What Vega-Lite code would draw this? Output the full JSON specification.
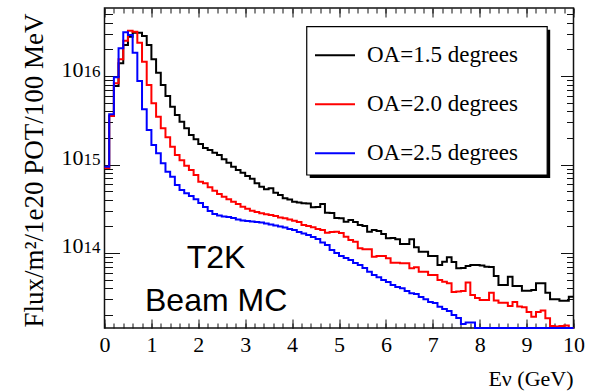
{
  "$schema": "https://vega.github.io/schema/vega-lite/v6.json",
  "width": 469,
  "height": 320,
  "autosize": {"type": "none"},
  "padding": {"left": 104.5, "top": 8, "right": 22.5, "bottom": 63},
  "background": "white",
  "config": {
    "font": "Liberation Serif, serif",
    "style": {"guide-label": {"font": "Liberation Serif, serif"}, "guide-title": {"font": "Liberation Serif, serif"}},
    "view": {"stroke": "#111", "strokeWidth": 1.5},
    "axis": {"labelFont": "Liberation Serif, serif", "titleFont": "Liberation Serif, serif", "titleFontWeight": "normal", "labelColor": "black", "titleColor": "black", "tickColor": "#111", "tickWidth": 1, "grid": false, "domain": false, "labelOverlap": false, "labelFlush": false},
    "legend": {"labelFont": "Liberation Serif, serif"}
  },
  "data": {"values": [
    {"e":0.0,"a":1.5,"f":9.13e14},{"e":0.1,"a":1.5,"f":3.53e15},{"e":0.2,"a":1.5,"f":7.71e15},{"e":0.3,"a":1.5,"f":1.39e16},{"e":0.4,"a":1.5,"f":2.24e16},{"e":0.5,"a":1.5,"f":2.78e16},{"e":0.6,"a":1.5,"f":3.08e16},{"e":0.7,"a":1.5,"f":3.08e16},{"e":0.8,"a":1.5,"f":2.83e16},{"e":0.9,"a":1.5,"f":2.24e16},
    {"e":1.0,"a":1.5,"f":1.55e16},{"e":1.1,"a":1.5,"f":1.09e16},{"e":1.2,"a":1.5,"f":7.91e15},{"e":1.3,"a":1.5,"f":5.94e15},{"e":1.4,"a":1.5,"f":4.5e15},{"e":1.5,"a":1.5,"f":3.62e15},{"e":1.6,"a":1.5,"f":3.05e15},{"e":1.7,"a":1.5,"f":2.57e15},{"e":1.8,"a":1.5,"f":2.15e15},{"e":1.9,"a":1.5,"f":1.93e15},
    {"e":2.0,"a":1.5,"f":1.71e15},{"e":2.1,"a":1.5,"f":1.54e15},{"e":2.2,"a":1.5,"f":1.46e15},{"e":2.3,"a":1.5,"f":1.36e15},{"e":2.4,"a":1.5,"f":1.28e15},{"e":2.5,"a":1.5,"f":1.15e15},{"e":2.6,"a":1.5,"f":1.05e15},{"e":2.7,"a":1.5,"f":9.44e14},{"e":2.8,"a":1.5,"f":8.67e14},{"e":2.9,"a":1.5,"f":8.08e14},
    {"e":3.0,"a":1.5,"f":7.41e14},{"e":3.1,"a":1.5,"f":6.91e14},{"e":3.2,"a":1.5,"f":6.13e14},{"e":3.3,"a":1.5,"f":5.61e14},{"e":3.4,"a":1.5,"f":5.25e14},{"e":3.5,"a":1.5,"f":5.38e14},{"e":3.6,"a":1.5,"f":4.8e14},{"e":3.7,"a":1.5,"f":4.52e14},{"e":3.8,"a":1.5,"f":4.15e14},{"e":3.9,"a":1.5,"f":4.02e14},
    {"e":4.0,"a":1.5,"f":3.8e14},{"e":4.1,"a":1.5,"f":3.72e14},{"e":4.2,"a":1.5,"f":3.65e14},{"e":4.3,"a":1.5,"f":3.63e14},{"e":4.4,"a":1.5,"f":3.28e14},{"e":4.5,"a":1.5,"f":3.31e14},{"e":4.6,"a":1.5,"f":3.58e14},{"e":4.7,"a":1.5,"f":2.85e14},{"e":4.8,"a":1.5,"f":2.83e14},{"e":4.9,"a":1.5,"f":2.49e14},
    {"e":5.0,"a":1.5,"f":2.47e14},{"e":5.1,"a":1.5,"f":2.26e14},{"e":5.2,"a":1.5,"f":2.36e14},{"e":5.3,"a":1.5,"f":2.24e14},{"e":5.4,"a":1.5,"f":2.07e14},{"e":5.5,"a":1.5,"f":2.02e14},{"e":5.6,"a":1.5,"f":1.74e14},{"e":5.7,"a":1.5,"f":1.82e14},{"e":5.8,"a":1.5,"f":1.77e14},{"e":5.9,"a":1.5,"f":1.64e14},
    {"e":6.0,"a":1.5,"f":1.47e14},{"e":6.1,"a":1.5,"f":1.48e14},{"e":6.2,"a":1.5,"f":1.43e14},{"e":6.3,"a":1.5,"f":1.26e14},{"e":6.4,"a":1.5,"f":1.26e14},{"e":6.5,"a":1.5,"f":1.43e14},{"e":6.6,"a":1.5,"f":1.16e14},{"e":6.7,"a":1.5,"f":1.035e14},{"e":6.8,"a":1.5,"f":1.03e14},{"e":6.9,"a":1.5,"f":9.25e13},
    {"e":7.0,"a":1.5,"f":9.25e13},{"e":7.1,"a":1.5,"f":7.31e13},{"e":7.2,"a":1.5,"f":7.98e13},{"e":7.3,"a":1.5,"f":8.94e13},{"e":7.4,"a":1.5,"f":7.92e13},{"e":7.5,"a":1.5,"f":6.72e13},{"e":7.6,"a":1.5,"f":6.77e13},{"e":7.7,"a":1.5,"f":7.13e13},{"e":7.8,"a":1.5,"f":7.31e13},{"e":7.9,"a":1.5,"f":7.31e13},
    {"e":8.0,"a":1.5,"f":7.22e13},{"e":8.1,"a":1.5,"f":7.0e13},{"e":8.2,"a":1.5,"f":6.95e13},{"e":8.3,"a":1.5,"f":5.5e13},{"e":8.4,"a":1.5,"f":4.35e13},{"e":8.5,"a":1.5,"f":4.35e13},{"e":8.6,"a":1.5,"f":5.4e13},{"e":8.7,"a":1.5,"f":4.24e13},{"e":8.8,"a":1.5,"f":4.24e13},{"e":8.9,"a":1.5,"f":3.75e13},
    {"e":9.0,"a":1.5,"f":3.75e13},{"e":9.1,"a":1.5,"f":3.82e13},{"e":9.2,"a":1.5,"f":4.55e13},{"e":9.3,"a":1.5,"f":4.55e13},{"e":9.4,"a":1.5,"f":3.56e13},{"e":9.5,"a":1.5,"f":3.0e13},{"e":9.6,"a":1.5,"f":3.0e13},{"e":9.7,"a":1.5,"f":2.89e13},{"e":9.8,"a":1.5,"f":2.89e13},{"e":9.9,"a":1.5,"f":3.21e13},{"e":10.0,"a":1.5,"f":3.21e13},

    {"e":0.0,"a":2.0,"f":9.13e14},{"e":0.1,"a":2.0,"f":3.53e15},{"e":0.2,"a":2.0,"f":8.27e15},{"e":0.3,"a":2.0,"f":1.55e16},{"e":0.4,"a":2.0,"f":2.51e16},{"e":0.5,"a":2.0,"f":3.25e16},{"e":0.6,"a":2.0,"f":3.17e16},{"e":0.7,"a":2.0,"f":2.38e16},{"e":0.8,"a":2.0,"f":1.45e16},{"e":0.9,"a":2.0,"f":7.91e15},
    {"e":1.0,"a":2.0,"f":4.91e15},{"e":1.1,"a":2.0,"f":3.47e15},{"e":1.2,"a":2.0,"f":2.57e15},{"e":1.3,"a":2.0,"f":2.03e15},{"e":1.4,"a":2.0,"f":1.59e15},{"e":1.5,"a":2.0,"f":1.28e15},{"e":1.6,"a":2.0,"f":1.12e15},{"e":1.7,"a":2.0,"f":9.69e14},{"e":1.8,"a":2.0,"f":8.67e14},{"e":1.9,"a":2.0,"f":7.61e14},
    {"e":2.0,"a":2.0,"f":6.4e14},{"e":2.1,"a":2.0,"f":6.13e14},{"e":2.2,"a":2.0,"f":5.52e14},{"e":2.3,"a":2.0,"f":5.06e14},{"e":2.4,"a":2.0,"f":4.64e14},{"e":2.5,"a":2.0,"f":4.33e14},{"e":2.6,"a":2.0,"f":4.04e14},{"e":2.7,"a":2.0,"f":3.8e14},{"e":2.8,"a":2.0,"f":3.58e14},{"e":2.9,"a":2.0,"f":3.34e14},
    {"e":3.0,"a":2.0,"f":3.17e14},{"e":3.1,"a":2.0,"f":3.01e14},{"e":3.2,"a":2.0,"f":2.91e14},{"e":3.3,"a":2.0,"f":2.81e14},{"e":3.4,"a":2.0,"f":2.74e14},{"e":3.5,"a":2.0,"f":2.69e14},{"e":3.6,"a":2.0,"f":2.62e14},{"e":3.7,"a":2.0,"f":2.51e14},{"e":3.8,"a":2.0,"f":2.47e14},{"e":3.9,"a":2.0,"f":2.39e14},
    {"e":4.0,"a":2.0,"f":2.32e14},{"e":4.1,"a":2.0,"f":2.24e14},{"e":4.2,"a":2.0,"f":2.07e14},{"e":4.3,"a":2.0,"f":2.02e14},{"e":4.4,"a":2.0,"f":1.95e14},{"e":4.5,"a":2.0,"f":1.87e14},{"e":4.6,"a":2.0,"f":1.82e14},{"e":4.7,"a":2.0,"f":1.69e14},{"e":4.8,"a":2.0,"f":1.73e14},{"e":4.9,"a":2.0,"f":1.74e14},
    {"e":5.0,"a":2.0,"f":1.68e14},{"e":5.1,"a":2.0,"f":1.53e14},{"e":5.2,"a":2.0,"f":1.4e14},{"e":5.3,"a":2.0,"f":1.34e14},{"e":5.4,"a":2.0,"f":1.13e14},{"e":5.5,"a":2.0,"f":1.1e14},{"e":5.6,"a":2.0,"f":1.1e14},{"e":5.7,"a":2.0,"f":9.08e13},{"e":5.8,"a":2.0,"f":9.25e13},{"e":5.9,"a":2.0,"f":9.25e13},
    {"e":6.0,"a":2.0,"f":8.71e13},{"e":6.1,"a":2.0,"f":7.77e13},{"e":6.2,"a":2.0,"f":7.77e13},{"e":6.3,"a":2.0,"f":7.65e13},{"e":6.4,"a":2.0,"f":7.65e13},{"e":6.5,"a":2.0,"f":6.72e13},{"e":6.6,"a":2.0,"f":6.89e13},{"e":6.7,"a":2.0,"f":6.15e13},{"e":6.8,"a":2.0,"f":6.15e13},{"e":6.9,"a":2.0,"f":5.64e13},
    {"e":7.0,"a":2.0,"f":5.64e13},{"e":7.1,"a":2.0,"f":4.95e13},{"e":7.2,"a":2.0,"f":4.74e13},{"e":7.3,"a":2.0,"f":4.55e13},{"e":7.4,"a":2.0,"f":3.63e13},{"e":7.5,"a":2.0,"f":3.66e13},{"e":7.6,"a":2.0,"f":3.72e13},{"e":7.7,"a":2.0,"f":4.64e13},{"e":7.8,"a":2.0,"f":3.35e13},{"e":7.9,"a":2.0,"f":3.1e13},
    {"e":8.0,"a":2.0,"f":2.94e13},{"e":8.1,"a":2.0,"f":2.94e13},{"e":8.2,"a":2.0,"f":3.56e13},{"e":8.3,"a":2.0,"f":2.9e13},{"e":8.4,"a":2.0,"f":2.74e13},{"e":8.5,"a":2.0,"f":2.74e13},{"e":8.6,"a":2.0,"f":2.52e13},{"e":8.7,"a":2.0,"f":2.79e13},{"e":8.8,"a":2.0,"f":2.48e13},{"e":8.9,"a":2.0,"f":2.43e13},
    {"e":9.0,"a":2.0,"f":2.15e13},{"e":9.1,"a":2.0,"f":1.9e13},{"e":9.2,"a":2.0,"f":2.15e13},{"e":9.3,"a":2.0,"f":2.24e13},{"e":9.4,"a":2.0,"f":1.83e13},{"e":9.5,"a":2.0,"f":1.5e13},{"e":9.6,"a":2.0,"f":1.48e13},{"e":9.7,"a":2.0,"f":1.5e13},{"e":9.8,"a":2.0,"f":1.52e13},{"e":9.9,"a":2.0,"f":1.42e13},{"e":10.0,"a":2.0,"f":1.42e13},

    {"e":0.0,"a":2.5,"f":9.44e14},{"e":0.1,"a":2.5,"f":3.69e15},{"e":0.2,"a":2.5,"f":9.67e15},{"e":0.3,"a":2.5,"f":2.06e16},{"e":0.4,"a":2.5,"f":3.12e16},{"e":0.5,"a":2.5,"f":2.9e16},{"e":0.6,"a":2.5,"f":1.83e16},{"e":0.7,"a":2.5,"f":8.78e15},{"e":0.8,"a":2.5,"f":4.2e15},{"e":0.9,"a":2.5,"f":2.45e15},
    {"e":1.0,"a":2.5,"f":1.66e15},{"e":1.1,"a":2.5,"f":1.34e15},{"e":1.2,"a":2.5,"f":1.03e15},{"e":1.3,"a":2.5,"f":8.3e14},{"e":1.4,"a":2.5,"f":7.28e14},{"e":1.5,"a":2.5,"f":5.87e14},{"e":1.6,"a":2.5,"f":5.15e14},{"e":1.7,"a":2.5,"f":4.73e14},{"e":1.8,"a":2.5,"f":4.41e14},{"e":1.9,"a":2.5,"f":4.04e14},
    {"e":2.0,"a":2.5,"f":3.67e14},{"e":2.1,"a":2.5,"f":3.31e14},{"e":2.2,"a":2.5,"f":2.98e14},{"e":2.3,"a":2.5,"f":2.76e14},{"e":2.4,"a":2.5,"f":2.65e14},{"e":2.5,"a":2.5,"f":2.58e14},{"e":2.6,"a":2.5,"f":2.55e14},{"e":2.7,"a":2.5,"f":2.49e14},{"e":2.8,"a":2.5,"f":2.39e14},{"e":2.9,"a":2.5,"f":2.33e14},
    {"e":3.0,"a":2.5,"f":2.3e14},{"e":3.1,"a":2.5,"f":2.27e14},{"e":3.2,"a":2.5,"f":2.24e14},{"e":3.3,"a":2.5,"f":2.21e14},{"e":3.4,"a":2.5,"f":2.15e14},{"e":3.5,"a":2.5,"f":2.1e14},{"e":3.6,"a":2.5,"f":2.05e14},{"e":3.7,"a":2.5,"f":1.99e14},{"e":3.8,"a":2.5,"f":1.94e14},{"e":3.9,"a":2.5,"f":1.87e14},
    {"e":4.0,"a":2.5,"f":1.82e14},{"e":4.1,"a":2.5,"f":1.73e14},{"e":4.2,"a":2.5,"f":1.66e14},{"e":4.3,"a":2.5,"f":1.6e14},{"e":4.4,"a":2.5,"f":1.52e14},{"e":4.5,"a":2.5,"f":1.44e14},{"e":4.6,"a":2.5,"f":1.31e14},{"e":4.7,"a":2.5,"f":1.23e14},{"e":4.8,"a":2.5,"f":1.08e14},{"e":4.9,"a":2.5,"f":1.0e14},
    {"e":5.0,"a":2.5,"f":9.25e13},{"e":5.1,"a":2.5,"f":8.78e13},{"e":5.2,"a":2.5,"f":8.34e13},{"e":5.3,"a":2.5,"f":7.71e13},{"e":5.4,"a":2.5,"f":7.31e13},{"e":5.5,"a":2.5,"f":6.77e13},{"e":5.6,"a":2.5,"f":6.15e13},{"e":5.7,"a":2.5,"f":5.64e13},{"e":5.8,"a":2.5,"f":5.31e13},{"e":5.9,"a":2.5,"f":4.95e13},
    {"e":6.0,"a":2.5,"f":4.7e13},{"e":6.1,"a":2.5,"f":4.35e13},{"e":6.2,"a":2.5,"f":4.13e13},{"e":6.3,"a":2.5,"f":3.99e13},{"e":6.4,"a":2.5,"f":3.72e13},{"e":6.5,"a":2.5,"f":3.51e13},{"e":6.6,"a":2.5,"f":3.44e13},{"e":6.7,"a":2.5,"f":3.18e13},{"e":6.8,"a":2.5,"f":3.0e13},{"e":6.9,"a":2.5,"f":2.79e13},
    {"e":7.0,"a":2.5,"f":2.72e13},{"e":7.1,"a":2.5,"f":2.47e13},{"e":7.2,"a":2.5,"f":2.33e13},{"e":7.3,"a":2.5,"f":2.21e13},{"e":7.4,"a":2.5,"f":1.99e13},{"e":7.5,"a":2.5,"f":1.84e13},{"e":7.6,"a":2.5,"f":1.58e13},{"e":7.7,"a":2.5,"f":1.64e13},{"e":7.8,"a":2.5,"f":1.64e13},{"e":7.9,"a":2.5,"f":1.42e13},
    {"e":8.0,"a":2.5,"f":1.42e13},{"e":8.1,"a":2.5,"f":1.42e13},{"e":8.2,"a":2.5,"f":1.42e13},{"e":8.3,"a":2.5,"f":1.42e13},{"e":8.4,"a":2.5,"f":1.42e13},{"e":8.5,"a":2.5,"f":1.42e13},{"e":8.6,"a":2.5,"f":1.42e13},{"e":8.7,"a":2.5,"f":1.42e13},{"e":8.8,"a":2.5,"f":1.42e13},{"e":8.9,"a":2.5,"f":1.42e13},
    {"e":9.0,"a":2.5,"f":1.42e13},{"e":9.1,"a":2.5,"f":1.42e13},{"e":9.2,"a":2.5,"f":1.42e13},{"e":9.3,"a":2.5,"f":1.42e13},{"e":9.4,"a":2.5,"f":1.42e13},{"e":9.5,"a":2.5,"f":1.42e13},{"e":9.6,"a":2.5,"f":1.42e13},{"e":9.7,"a":2.5,"f":1.42e13},{"e":9.8,"a":2.5,"f":1.42e13},{"e":9.9,"a":2.5,"f":1.42e13},{"e":10.0,"a":2.5,"f":1.42e13}
  ]},
  "resolve": {"axis": {"x": "independent", "y": "independent"}},
  "layer": [
    {
      "mark": {"type": "line", "interpolate": "step-after", "strokeWidth": 2},
      "encoding": {
        "x": {"field": "e", "type": "quantitative", "scale": {"domain": [0, 10], "nice": false},
          "axis": {"orient": "bottom", "values": [0,1,2,3,4,5,6,7,8,9,10], "ticks": false, "labelFont": "Liberation Serif, serif", "labelFontSize": 22, "labelBaseline": "alphabetic", "labelPadding": 23.5,
            "title": "Eν (GeV)", "titleFontSize": 22, "titleAnchor": "end", "titleAlign": "right", "titleBaseline": "alphabetic", "titleX": 468.5, "titleY": 57}},
        "y": {"field": "f", "type": "quantitative", "scale": {"type": "log", "domain": [1.42e13, 5.87e16], "nice": false},
          "axis": {"orient": "left", "values": [1e14, 1e15, 1e16], "labelExpr": "'10'", "ticks": false, "labelFont": "Liberation Serif, serif", "labelFontSize": 22, "labelAlign": "right", "labelBaseline": "alphabetic", "labelDy": 10, "labelPadding": 21.5,
            "title": "Flux/m²/1e20 POT/100 MeV", "titleFontSize": 27, "titleAngle": 270, "titleAnchor": "end", "titleAlign": "right", "titleBaseline": "alphabetic", "titleX": -62.5, "titleY": 5}},
        "color": {"field": "a", "type": "nominal", "scale": {"domain": [1.5, 2, 2.5], "range": ["#000000", "#ff0000", "#0000ff"]},
          "legend": {"orient": "none", "legendX": 209.5, "legendY": 26.2, "title": null,
            "symbolType": "stroke", "symbolSize": 1600, "symbolStrokeWidth": 2,
            "labelFont": "Liberation Serif, serif", "labelFontSize": 23, "labelColor": "black", "labelOffset": 11, "rowPadding": 16, "padding": 0,
            "labelLimit": 400,
            "labelExpr": "'OA=' + format(datum.value, '.1f') + ' degrees'"}}
      }
    },
    {
      "mark": {"type": "line", "strokeOpacity": 0},
      "encoding": {
        "x": {"field": "e", "type": "quantitative", "scale": {"domain": [0, 10], "nice": false},
          "axis": {"orient": "bottom", "values": [0,1,2,3,4,5,6,7,8,9,10], "tickSize": -9, "labels": false, "title": null}},
        "y": {"field": "f", "type": "quantitative", "scale": {"type": "log", "domain": [1.42e13, 5.87e16], "nice": false},
          "axis": {"orient": "left", "values": [1e14, 1e15, 1e16], "labelExpr": "format(round(log(datum.value) / LN10), 'd')", "ticks": false, "labelFont": "Liberation Serif, serif", "labelFontSize": 17, "labelAlign": "left", "labelBaseline": "alphabetic", "labelDy": 3, "labelPadding": 21.5, "title": null}}
      }
    },
    {
      "mark": {"type": "line", "strokeOpacity": 0},
      "encoding": {
        "x": {"field": "e", "type": "quantitative", "scale": {"domain": [0, 10], "nice": false},
          "axis": {"orient": "bottom", "values": [0,0.2,0.4,0.6,0.8,1,1.2,1.4,1.6,1.8,2,2.2,2.4,2.6,2.8,3,3.2,3.4,3.6,3.8,4,4.2,4.4,4.6,4.8,5,5.2,5.4,5.6,5.8,6,6.2,6.4,6.6,6.8,7,7.2,7.4,7.6,7.8,8,8.2,8.4,8.6,8.8,9,9.2,9.4,9.6,9.8,10], "tickSize": -5, "labels": false, "title": null}},
        "y": {"field": "f", "type": "quantitative", "scale": {"type": "log", "domain": [1.42e13, 5.87e16], "nice": false},
          "axis": {"orient": "left", "values": [1e14, 1e15, 1e16], "tickSize": -15, "labels": false, "title": null}}
      }
    },
    {
      "mark": {"type": "line", "strokeOpacity": 0},
      "encoding": {
        "x": {"field": "e", "type": "quantitative", "scale": {"domain": [0, 10], "nice": false},
          "axis": {"orient": "top", "values": [0,1,2,3,4,5,6,7,8,9,10], "tickSize": -9, "labels": false, "title": null}},
        "y": {"field": "f", "type": "quantitative", "scale": {"type": "log", "domain": [1.42e13, 5.87e16], "nice": false},
          "axis": {"orient": "left", "values": [2e13,3e13,4e13,5e13,6e13,7e13,8e13,9e13,2e14,3e14,4e14,5e14,6e14,7e14,8e14,9e14,2e15,3e15,4e15,5e15,6e15,7e15,8e15,9e15,2e16,3e16,4e16,5e16], "tickSize": -8, "labels": false, "title": null}}
      }
    },
    {
      "mark": {"type": "line", "strokeOpacity": 0},
      "encoding": {
        "x": {"field": "e", "type": "quantitative", "scale": {"domain": [0, 10], "nice": false},
          "axis": {"orient": "top", "values": [0,0.2,0.4,0.6,0.8,1,1.2,1.4,1.6,1.8,2,2.2,2.4,2.6,2.8,3,3.2,3.4,3.6,3.8,4,4.2,4.4,4.6,4.8,5,5.2,5.4,5.6,5.8,6,6.2,6.4,6.6,6.8,7,7.2,7.4,7.6,7.8,8,8.2,8.4,8.6,8.8,9,9.2,9.4,9.6,9.8,10], "tickSize": -5, "labels": false, "title": null}},
        "y": {"field": "f", "type": "quantitative", "scale": {"type": "log", "domain": [1.42e13, 5.87e16], "nice": false},
          "axis": {"orient": "right", "values": [1e14, 1e15, 1e16], "tickSize": -13, "labels": false, "title": null}}
      }
    },
    {
      "mark": {"type": "line", "strokeOpacity": 0},
      "encoding": {
        "x": {"field": "e", "type": "quantitative", "scale": {"domain": [0, 10], "nice": false}, "axis": null},
        "y": {"field": "f", "type": "quantitative", "scale": {"type": "log", "domain": [1.42e13, 5.87e16], "nice": false},
          "axis": {"orient": "right", "values": [2e13,3e13,4e13,5e13,6e13,7e13,8e13,9e13,2e14,3e14,4e14,5e14,6e14,7e14,8e14,9e14,2e15,3e15,4e15,5e15,6e15,7e15,8e15,9e15,2e16,3e16,4e16,5e16], "tickSize": -7, "labels": false, "title": null}}
      }
    },
    {
      "data": {"values": [{"part": "legend shadow"}]},
      "mark": {"type": "rect", "fill": "black", "strokeWidth": 0},
      "encoding": {
        "x": {"datum": 4.376, "type": "quantitative", "axis": null},
        "x2": {"datum": 9.503},
        "y": {"datum": 3.34e16, "type": "quantitative", "axis": null},
        "y2": {"datum": 7.04e14}
      }
    },
    {
      "data": {"values": [{"part": "legend box"}]},
      "mark": {"type": "rect", "fill": "white", "stroke": "black", "strokeWidth": 1.2},
      "encoding": {
        "x": {"datum": 4.312, "type": "quantitative", "axis": null},
        "x2": {"datum": 9.439},
        "y": {"datum": 3.61e16, "type": "quantitative", "axis": null},
        "y2": {"datum": 7.61e14}
      }
    },
    {
      "data": {"values": [{"label": "T2K Beam MC"}]},
      "mark": {"type": "text", "font": "Liberation Sans", "fontSize": 32, "lineHeight": 43, "align": "center", "baseline": "middle", "color": "black"},
      "encoding": {
        "x": {"datum": 2.38, "type": "quantitative", "axis": null},
        "y": {"datum": 8.79e13, "type": "quantitative", "axis": null},
        "text": {"value": ["T2K", "Beam MC"]}
      }
    }
  ]
}
